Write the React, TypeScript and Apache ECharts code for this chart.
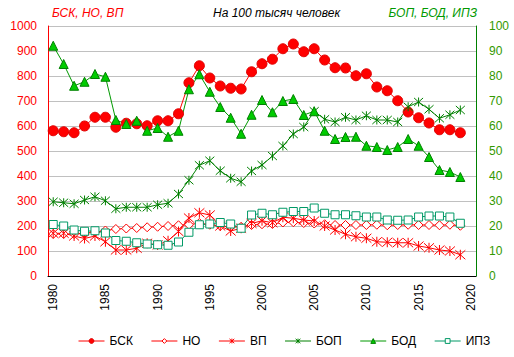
import React, { useEffect, useRef } from "react";
import * as echarts from "echarts";

const categories: string[] = [];
for (let y = 1980; y <= 2020; y++) categories.push(String(y));

const bsk = [581, 577, 573, 600, 635, 635, 595, 611, 609, 601, 621, 621, 649, 773, 841, 792, 760, 751, 748, 817, 849, 867, 909, 928, 897, 909, 864, 833, 832, 801, 809, 756, 741, 701, 656, 633, 612, 585, 585, 573];
const ho = [168, 168, 168, 172, 175, 182, 188, 190, 192, 195, 197, 200, 203, 205, 212, 205, 200, 196, 197, 204, 207, 208, 214, 215, 212, 210, 207, 204, 204, 204, 204, 205, 203, 204, 205, 204, 204, 203, 205, 201];
const vp = [171, 171, 160, 150, 160, 137, 104, 104, 111, 131, 124, 141, 178, 232, 253, 244, 200, 180, 191, 210, 221, 213, 235, 231, 224, 220, 200, 184, 167, 157, 151, 137, 135, 133, 133, 120, 113, 104, 100, 85];
const bop = [29.7, 29.3, 28.9, 30.4, 31.7, 30.1, 26.9, 27.5, 27.5, 27.5, 28.5, 29.1, 32.8, 38.3, 44.3, 46.1, 42.1, 39.1, 37.7, 42.0, 44.4, 48.0, 52.0, 56.8, 59.6, 65.9, 62.7, 61.6, 63.5, 62.4, 64.1, 62.4, 62.4, 61.6, 67.7, 69.6, 66.7, 63.1, 64.5, 66.4];
const bod = [92.1, 84.8, 76.1, 77.7, 80.8, 79.7, 62.4, 60.8, 62.1, 58.1, 59.2, 55.7, 58.1, 74.7, 80.7, 73.7, 67.6, 63.3, 56.9, 64.5, 70.4, 65.5, 70.0, 70.8, 64.4, 65.9, 58.1, 54.8, 55.6, 55.7, 52.1, 51.6, 50.4, 51.6, 54.8, 52.1, 47.6, 42.4, 41.6, 39.6];
const ipz = [20.6, 20.0, 18.4, 17.9, 18.1, 17.2, 14.2, 13.9, 13.3, 12.8, 12.5, 12.3, 13.6, 17.5, 20.5, 20.8, 21.4, 20.8, 19.1, 24.4, 25.1, 24.5, 25.5, 25.8, 25.8, 27.2, 25.1, 24.5, 24.5, 24.1, 23.6, 23.6, 22.4, 22.3, 22.4, 23.6, 24.0, 24.0, 23.6, 21.1];

const leftTicks = [0, 1000, 100];
const rightTicks = [0, 100, 10];

const STAR = "path://M5,0L5,10M0.5,0.5L9.5,9.5M9.5,0.5L0.5,9.5";
const FONT = "Liberation Sans, Arial, sans-serif";

export default function App() {
  const ref = useRef<HTMLDivElement>(null);
  useEffect(() => {
    if (!ref.current) return;
    document.body.style.margin = "0";
    const chart = echarts.init(ref.current, undefined, { renderer: "svg" });
    const mk = (name: string, data: number[], yAxisIndex: number, color: string, symbol: string, size: number, fill: string, border: string) => ({
      name,
      type: "line",
      data,
      yAxisIndex,
      symbol,
      symbolSize: size,
      showAllSymbol: true,
      lineStyle: { color, width: 1 },
      itemStyle: { color: fill, borderColor: border, borderWidth: 1 },
    });
    chart.setOption({
      animation: false,
      textStyle: { fontFamily: FONT },
      grid: { left: 48, right: 38, top: 26, bottom: 81 },
      graphic: [
        { type: "text", left: 52, top: 7, style: { text: "БСК, НО, ВП", fill: "#ff0000", fontSize: 12, fontStyle: "italic", fontFamily: FONT } },
        { type: "text", left: 213, top: 7, style: { text: "На 100 тысяч человек", fill: "#000", fontSize: 12, fontStyle: "italic", fontFamily: FONT } },
        { type: "text", right: 37, top: 7, style: { text: "БОП, БОД, ИПЗ", fill: "#009900", fontSize: 12, fontStyle: "italic", fontFamily: FONT } },
      ],
      legend: {
        left: 73,
        top: 330,
        itemWidth: 26,
        itemHeight: 6,
        itemGap: 18,
        itemStyle: { borderWidth: 1 },
        lineStyle: { width: 1 },
        textStyle: { fontSize: 12, color: "#000", fontFamily: FONT },
        data: ["БСК", "НО", "ВП", "БОП", "БОД", "ИПЗ"],
      },
      xAxis: {
        type: "category",
        data: categories,
        boundaryGap: true,
        axisLine: { lineStyle: { color: "#000", width: 1 } },
        axisTick: { show: false },
        axisLabel: { interval: 4, rotate: 90, color: "#000", fontSize: 12, margin: 8, fontFamily: FONT },
        splitLine: { show: false },
      },
      yAxis: [
        {
          type: "value",
          min: leftTicks[0],
          max: leftTicks[1],
          interval: leftTicks[2],
          axisLine: { show: true, lineStyle: { color: "#ff0000", width: 1 } },
          axisTick: { show: false },
          axisLabel: { color: "#ff0000", fontSize: 12, margin: 11, fontFamily: FONT, formatter: (v: number) => String(v) },
          splitLine: { show: true, lineStyle: { color: "#c0c0c0", width: 1 } },
        },
        {
          type: "value",
          min: rightTicks[0],
          max: rightTicks[1],
          interval: rightTicks[2],
          position: "right",
          axisLine: { show: true, lineStyle: { color: "#008000", width: 1 } },
          axisTick: { show: false },
          axisLabel: { color: "#339900", fontSize: 12, margin: 13, fontFamily: FONT, formatter: (v: number) => String(v) },
          splitLine: { show: false },
        },
      ],
      series: [
        mk("БСК", bsk, 0, "#ff0000", "circle", 10, "#ff0000", "#e00000"),
        mk("НО", ho, 0, "#ff0000", "diamond", 9, "#ffffff", "#ff0000"),
        mk("ВП", vp, 0, "#ff0000", STAR, 10, "#ff0000", "#ff0000"),
        mk("БОП", bop, 1, "#008000", STAR, 9, "#008000", "#008000"),
        mk("БОД", bod, 1, "#009900", "triangle", 9, "#00cc00", "#008000"),
        mk("ИПЗ", ipz, 1, "#009966", "rect", 8, "#ffffff", "#009966"),
      ],
    });
    return () => chart.dispose();
  }, []);
  return <div ref={ref} style={{ width: 514, height: 357 }} />;
}
